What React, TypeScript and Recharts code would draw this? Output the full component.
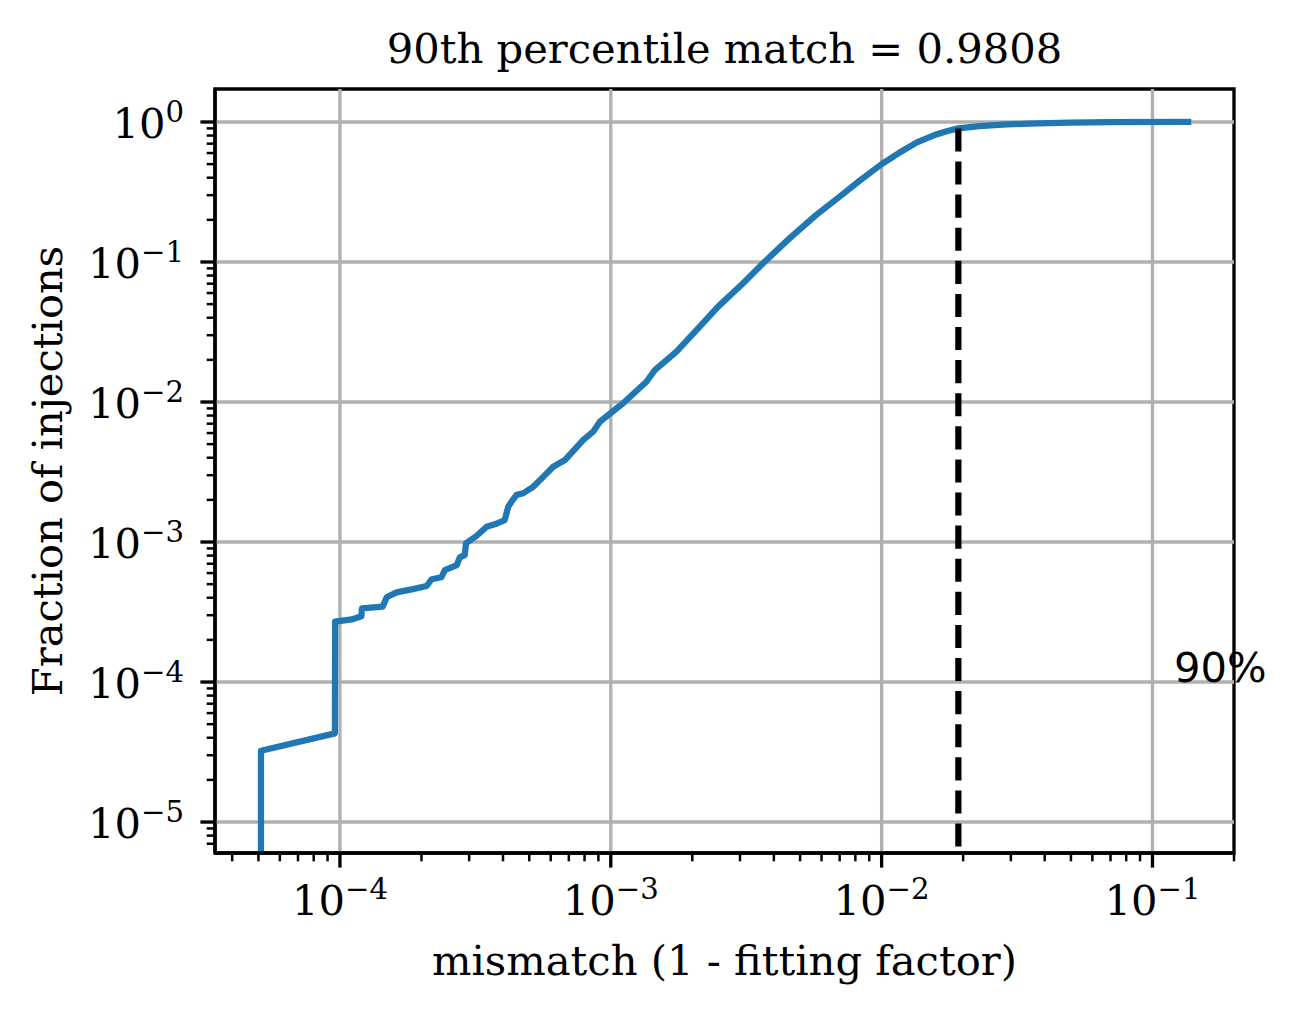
import React from "react";
import {
  LineChart,
  Line,
  XAxis,
  YAxis,
  ReferenceLine,
  ReferenceDot,
  ReferenceArea,
} from "recharts";

// ---- data ----
const CDF_X = [
  5.11e-5, 5.11e-5, 9.58e-5, 9.6e-5, 1.105e-4, 1.2e-4, 1.206e-4, 1.437e-4, 1.49e-4,
  1.62e-4, 1.84e-4, 2.09e-4, 2.18e-4, 2.37e-4, 2.44e-4, 2.7e-4, 2.77e-4, 2.89e-4,
  2.92e-4, 3.19e-4, 3.48e-4, 3.73e-4, 4.06e-4, 4.18e-4, 4.3e-4, 4.49e-4, 4.75e-4,
  5.17e-4, 5.63e-4, 6.13e-4, 6.77e-4, 7.9e-4, 8.61e-4, 9.11e-4, 1.11e-3, 1.354e-3,
  1.454e-3, 1.748e-3, 2.13e-3, 2.49e-3, 3.08e-3, 3.7e-3, 4.58e-3, 5.74e-3, 7.0e-3,
  8.29e-3, 1.0e-2, 1.165e-2, 1.35e-2, 1.591e-2, 1.75e-2, 1.92e-2, 2.3e-2, 2.8e-2,
  3.5e-2, 4.94e-2, 7.0e-2, 0.139,
];
const CDF_Y = [
  1e-7, 3.23e-5, 4.3e-5, 2.7e-4, 2.8e-4, 2.95e-4, 3.36e-4, 3.45e-4, 4.05e-4,
  4.37e-4, 4.59e-4, 4.85e-4, 5.42e-4, 5.6e-4, 6.31e-4, 6.85e-4, 7.78e-4, 8.07e-4,
  9.79e-4, 1.104e-3, 1.285e-3, 1.337e-3, 1.436e-3, 1.787e-3, 1.94e-3, 2.17e-3, 2.23e-3,
  2.48e-3, 2.92e-3, 3.45e-3, 3.85e-3, 5.35e-3, 6.14e-3, 7.23e-3, 9.79e-3, 1.396e-2,
  1.69e-2, 2.29e-2, 3.45e-2, 4.8e-2, 7.05e-2, 0.1005, 0.148, 0.217, 0.293,
  0.38, 0.5, 0.605, 0.715, 0.815, 0.862, 0.9, 0.935, 0.958,
  0.975, 0.989, 0.996, 1.0,
];
const P90_X = [0.0192, 0.0192];
const P90_Y = [0.9, 1e-7];
const LABEL_POS = { x: 0.12, y: 1e-4, text: "90%" };

const X_DOMAIN = [3.457e-5, 0.2];
const Y_DOMAIN = [6.01e-6, 1.72];

const X_MAJOR = [1e-4, 1e-3, 1e-2, 1e-1];
const X_MINOR = [
  4e-5, 5e-5, 6e-5, 7e-5, 8e-5, 9e-5,
  2e-4, 3e-4, 4e-4, 5e-4, 6e-4, 7e-4, 8e-4, 9e-4,
  2e-3, 3e-3, 4e-3, 5e-3, 6e-3, 7e-3, 8e-3, 9e-3,
  2e-2, 3e-2, 4e-2, 5e-2, 6e-2, 7e-2, 8e-2, 9e-2,
  2e-1,
];
const Y_MAJOR = [1e-5, 1e-4, 1e-3, 1e-2, 1e-1, 1];
const Y_MINOR = [
  7e-6, 8e-6, 9e-6,
  2e-5, 3e-5, 4e-5, 5e-5, 6e-5, 7e-5, 8e-5, 9e-5,
  2e-4, 3e-4, 4e-4, 5e-4, 6e-4, 7e-4, 8e-4, 9e-4,
  2e-3, 3e-3, 4e-3, 5e-3, 6e-3, 7e-3, 8e-3, 9e-3,
  2e-2, 3e-2, 4e-2, 5e-2, 6e-2, 7e-2, 8e-2, 9e-2,
  0.2, 0.3, 0.4, 0.5, 0.6, 0.7, 0.8, 0.9,
];

const TITLE = "90th percentile match = 0.9808";
const X_LABEL = "mismatch (1 - fitting factor)";
const Y_LABEL = "Fraction of injections";

const cdfData = CDF_X.map((x, i) => ({ x, y: CDF_Y[i] }));
const p90Data = P90_X.map((x, i) => ({ x, y: P90_Y[i] }));

// ---- styling ----
const SERIF = "'DejaVu Serif', serif";
const SANS = "'DejaVu Sans', sans-serif";
const FS = 41.67;
const SUP_FS = 29.2;
const W = 1287;
const H = 1005;
const M = { top: 81, right: 61, left: 0, bottom: 60 };
const Y_AXIS_W = 207;
const X_AXIS_H = 100;
const GRID = "#b0b0b0";

const isMajor = (v: number, majors: number[]) =>
  majors.some((m) => Math.abs(Math.log10(v) - Math.log10(m)) < 1e-6);

const expOf = (v: number) => Math.round(Math.log10(v));
const expText = (e: number) => (e < 0 ? "\u2212" + Math.abs(e) : String(e));

const XTick = (props: any) => {
  const { x, y, payload } = props;
  const v = payload.value;
  const major = isMajor(v, X_MAJOR);
  return (
    <g>
      <line
        x1={x}
        x2={x}
        y1={y}
        y2={y + (major ? 14.6 : 8.3)}
        stroke="#000"
        strokeWidth={major ? 3.33 : 2.5}
      />
      {major && (
        <text x={x} y={y + 62} textAnchor="middle" fontFamily={SERIF} fontSize={FS} fill="#000">
          <tspan>10</tspan>
          <tspan dy={-16} fontSize={SUP_FS}>
            {expText(expOf(v))}
          </tspan>
        </text>
      )}
    </g>
  );
};

const YTick = (props: any) => {
  const { x, y, payload } = props;
  const v = payload.value;
  const major = isMajor(v, Y_MAJOR);
  return (
    <g>
      <line
        x1={x}
        x2={x - (major ? 14.6 : 8.3)}
        y1={y}
        y2={y}
        stroke="#000"
        strokeWidth={major ? 3.33 : 2.5}
      />
      {major && (
        <text x={x - 31} y={y + 16} textAnchor="end" fontFamily={SERIF} fontSize={FS} fill="#000">
          <tspan>10</tspan>
          <tspan dy={-16} fontSize={SUP_FS}>
            {expText(expOf(v))}
          </tspan>
        </text>
      )}
    </g>
  );
};

const LabelShape = (props: any) => {
  const { cx, cy } = props;
  return (
    <text x={cx} y={cy} fontFamily={SANS} fontSize={FS} fill="#000" textAnchor="start">
      {LABEL_POS.text}
    </text>
  );
};

export default function App() {
  const plotLeft = M.left + Y_AXIS_W;
  const plotRight = W - M.right;
  const plotTop = M.top;
  const plotBottom = H - M.bottom - X_AXIS_H;
  const cx = (plotLeft + plotRight) / 2;
  const cy = (plotTop + plotBottom) / 2;
  return (
    <div style={{ position: "relative", width: W, height: H, background: "#fff" }}>
      <LineChart width={W} height={H} margin={M}>
        <XAxis
          dataKey="x"
          type="number"
          scale="log"
          domain={X_DOMAIN}
          allowDataOverflow
          ticks={[...X_MAJOR, ...X_MINOR].sort((a, b) => a - b)}
          interval={0}
          tick={<XTick />}
          tickLine={false}
          tickSize={0}
          tickMargin={0}
          height={X_AXIS_H}
          axisLine={{ stroke: "#000", strokeWidth: 3.33 }}
        />
        <YAxis
          dataKey="y"
          type="number"
          scale="log"
          domain={Y_DOMAIN}
          allowDataOverflow
          ticks={[...Y_MAJOR, ...Y_MINOR].sort((a, b) => a - b)}
          interval={0}
          tick={<YTick />}
          tickLine={false}
          tickSize={0}
          tickMargin={0}
          width={Y_AXIS_W}
          axisLine={{ stroke: "#000", strokeWidth: 3.33 }}
        />
        {X_MAJOR.map((v) => (
          <ReferenceLine key={"gx" + v} x={v} stroke={GRID} strokeWidth={3.33} />
        ))}
        {Y_MAJOR.map((v) => (
          <ReferenceLine key={"gy" + v} y={v} stroke={GRID} strokeWidth={3.33} />
        ))}
        <Line
          data={cdfData}
          dataKey="y"
          type="linear"
          stroke="#1f77b4"
          strokeWidth={6.25}
          dot={false}
          isAnimationActive={false}
          strokeLinejoin="round"
        />
        <Line
          data={p90Data}
          dataKey="y"
          type="linear"
          stroke="#000"
          strokeWidth={6.25}
          strokeDasharray="23.1 10"
          dot={false}
          isAnimationActive={false}
        />
        <ReferenceArea
          x1={X_DOMAIN[0]}
          x2={X_DOMAIN[1]}
          y1={Y_DOMAIN[0]}
          y2={Y_DOMAIN[1]}
          fill="none"
          fillOpacity={0}
          stroke="#000"
          strokeWidth={3.33}
          ifOverflow="visible"
        />
        <ReferenceDot
          x={LABEL_POS.x}
          y={LABEL_POS.y}
          r={0}
          ifOverflow="visible"
          shape={<LabelShape />}
        />
      </LineChart>
      <svg
        width={W}
        height={H}
        style={{ position: "absolute", left: 0, top: 0, pointerEvents: "none" }}
      >
        <text x={cx} y={55.3} textAnchor="middle" fontFamily={SERIF} fontSize={FS} fill="#000">
          {TITLE}
        </text>
        <text x={cx} y={967} textAnchor="middle" fontFamily={SERIF} fontSize={FS} fill="#000">
          {X_LABEL}
        </text>
        <text
          x={54}
          y={cy}
          textAnchor="middle"
          fontFamily={SERIF}
          fontSize={FS}
          fill="#000"
          transform={`rotate(-90, 54, ${cy})`}
        >
          {Y_LABEL}
        </text>
      </svg>
    </div>
  );
}
